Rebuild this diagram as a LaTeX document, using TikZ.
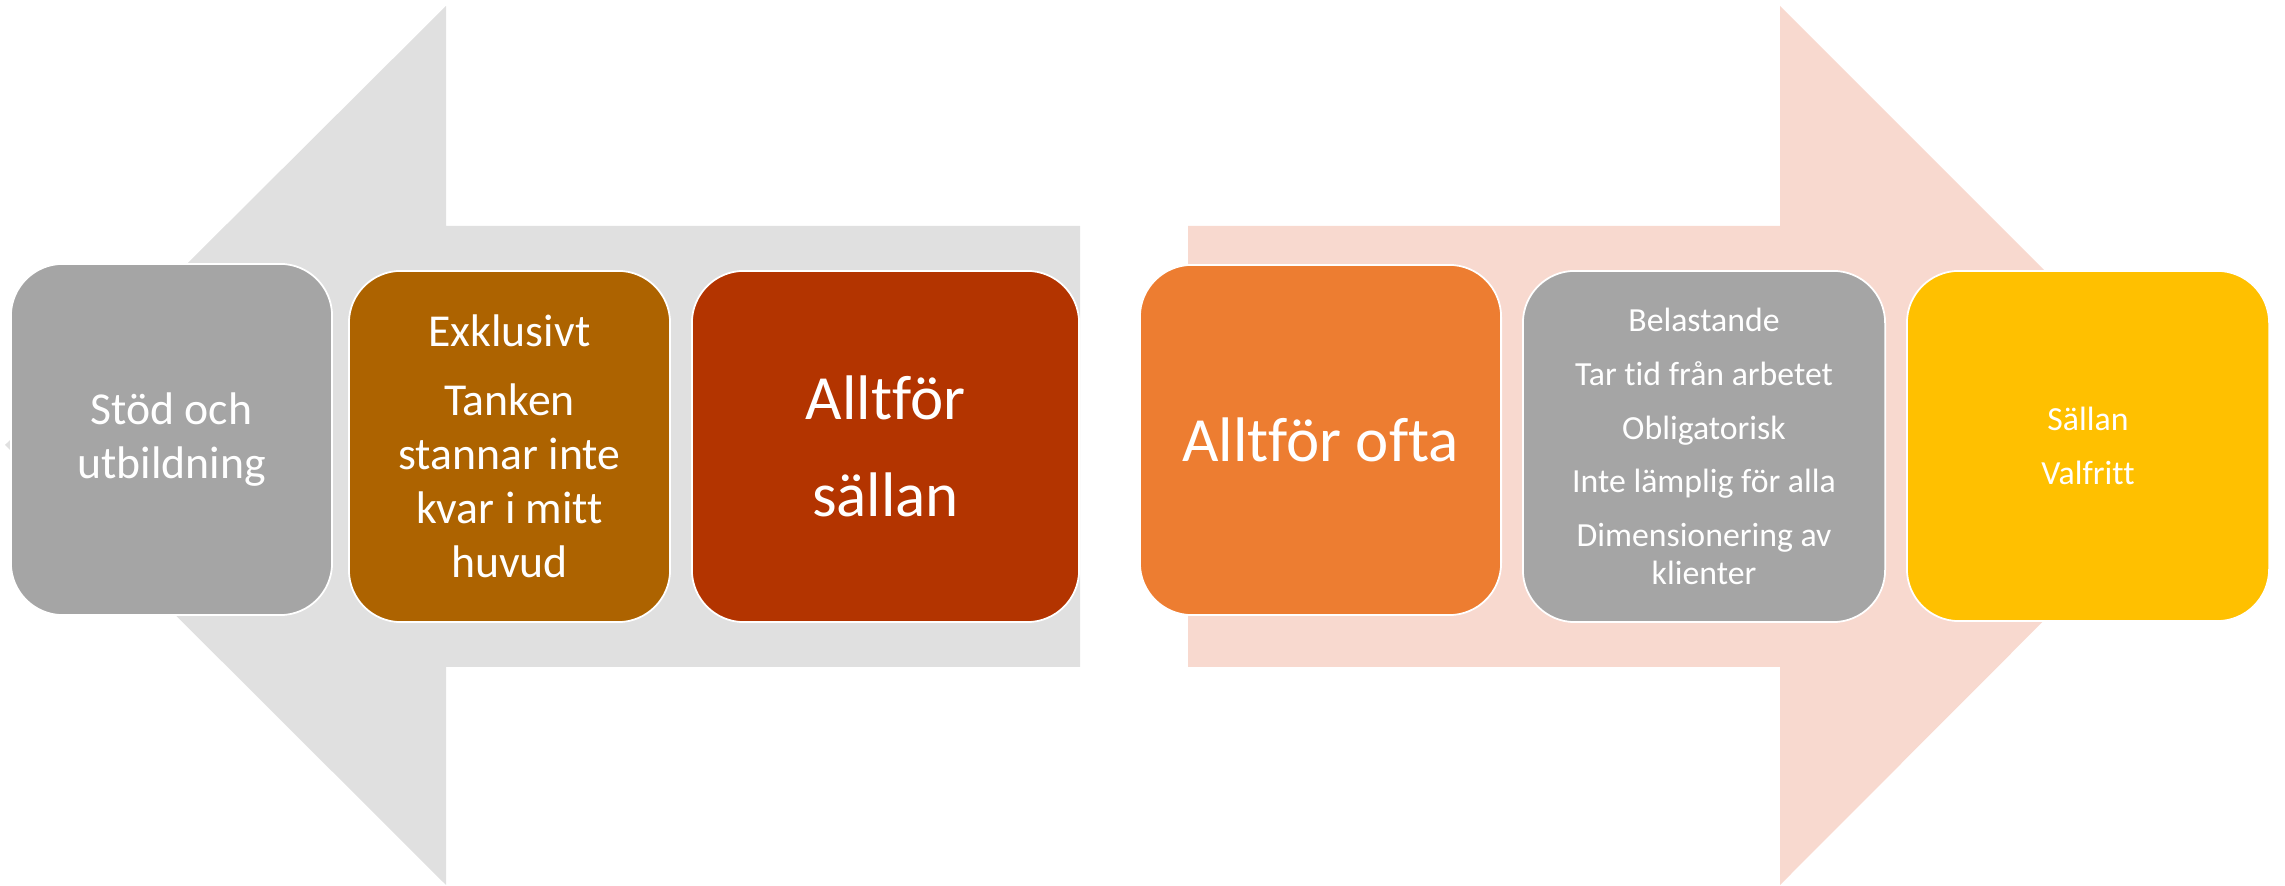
\documentclass[tikz,border=0pt]{standalone}
\usepackage{fontspec}
\setmainfont{Carlito}[Ligatures=NoCommon]

\definecolor{arrowgray}{HTML}{E0E0E0}
\definecolor{arrowpink}{HTML}{F8D9CF}
\definecolor{cardgray}{HTML}{A5A5A5}
\definecolor{cardbrown}{HTML}{AD6300}
\definecolor{cardred}{HTML}{B33400}
\definecolor{cardorange}{HTML}{ED7D31}
\definecolor{cardyellow}{HTML}{FFC000}

\tikzset{
  card/.style={draw=white, line width=0.5pt, rounded corners=0.52cm, text=white,
    align=center, inner sep=0pt, minimum width=3.21cm, minimum height=3.51cm},
  mid/.style={font=\fontsize{13pt}{15.4pt}\selectfont},
  large/.style={font=\fontsize{17.9pt}{27.6pt}\selectfont},
  small/.style={font=\fontsize{9.6pt}{10.8pt}\selectfont},
}

\begin{document}
\begin{tikzpicture}[x=0.01cm, y=-0.01cm]
  \useasboundingbox (0,0) rectangle (2285,886);

  % the two big arrows
  \fill[arrowgray] (5,445) -- (446,6) -- (446,226) -- (1080,226) -- (1080,667)
    -- (446,667) -- (446,885) -- cycle;
  \fill[arrowpink] (1188,226) -- (1780,226) -- (1780,6) -- (2219,445)
    -- (1780,885) -- (1780,667) -- (1188,667) -- cycle;

  \node[card, mid, fill=cardgray] (stod) at (171.5,439.5) {Stöd och\\utbildning};
  \node[card, mid, fill=cardbrown] (exkl) at (509.5,446.5)
    {Exklusivt\\[4pt]Tanken\\stannar inte\\kvar i mitt\\huvud};
  \node[card, large, fill=cardred, minimum width=3.87cm] (sallan) at (885.5,446.5)
    {Alltför\\sällan};

  \node[card, large, fill=cardorange, minimum width=3.61cm, minimum height=3.5cm] (ofta)
    at (1320.5,440) {Alltför ofta};
  \node[card, small, fill=cardgray, minimum width=3.62cm] (belast) at (1704,446.5)
    {Belastande\\[4.5pt]Tar tid från arbetet\\[4.5pt]Obligatorisk\\[4.5pt]Inte lämplig för alla\\[4.5pt]Dimensionering av\\klienter};
  \node[card, small, fill=cardyellow, minimum width=3.62cm, minimum height=3.5cm] (valfri)
    at (2088,446) {Sällan\\[4.5pt]Valfritt};
\end{tikzpicture}
\end{document}
